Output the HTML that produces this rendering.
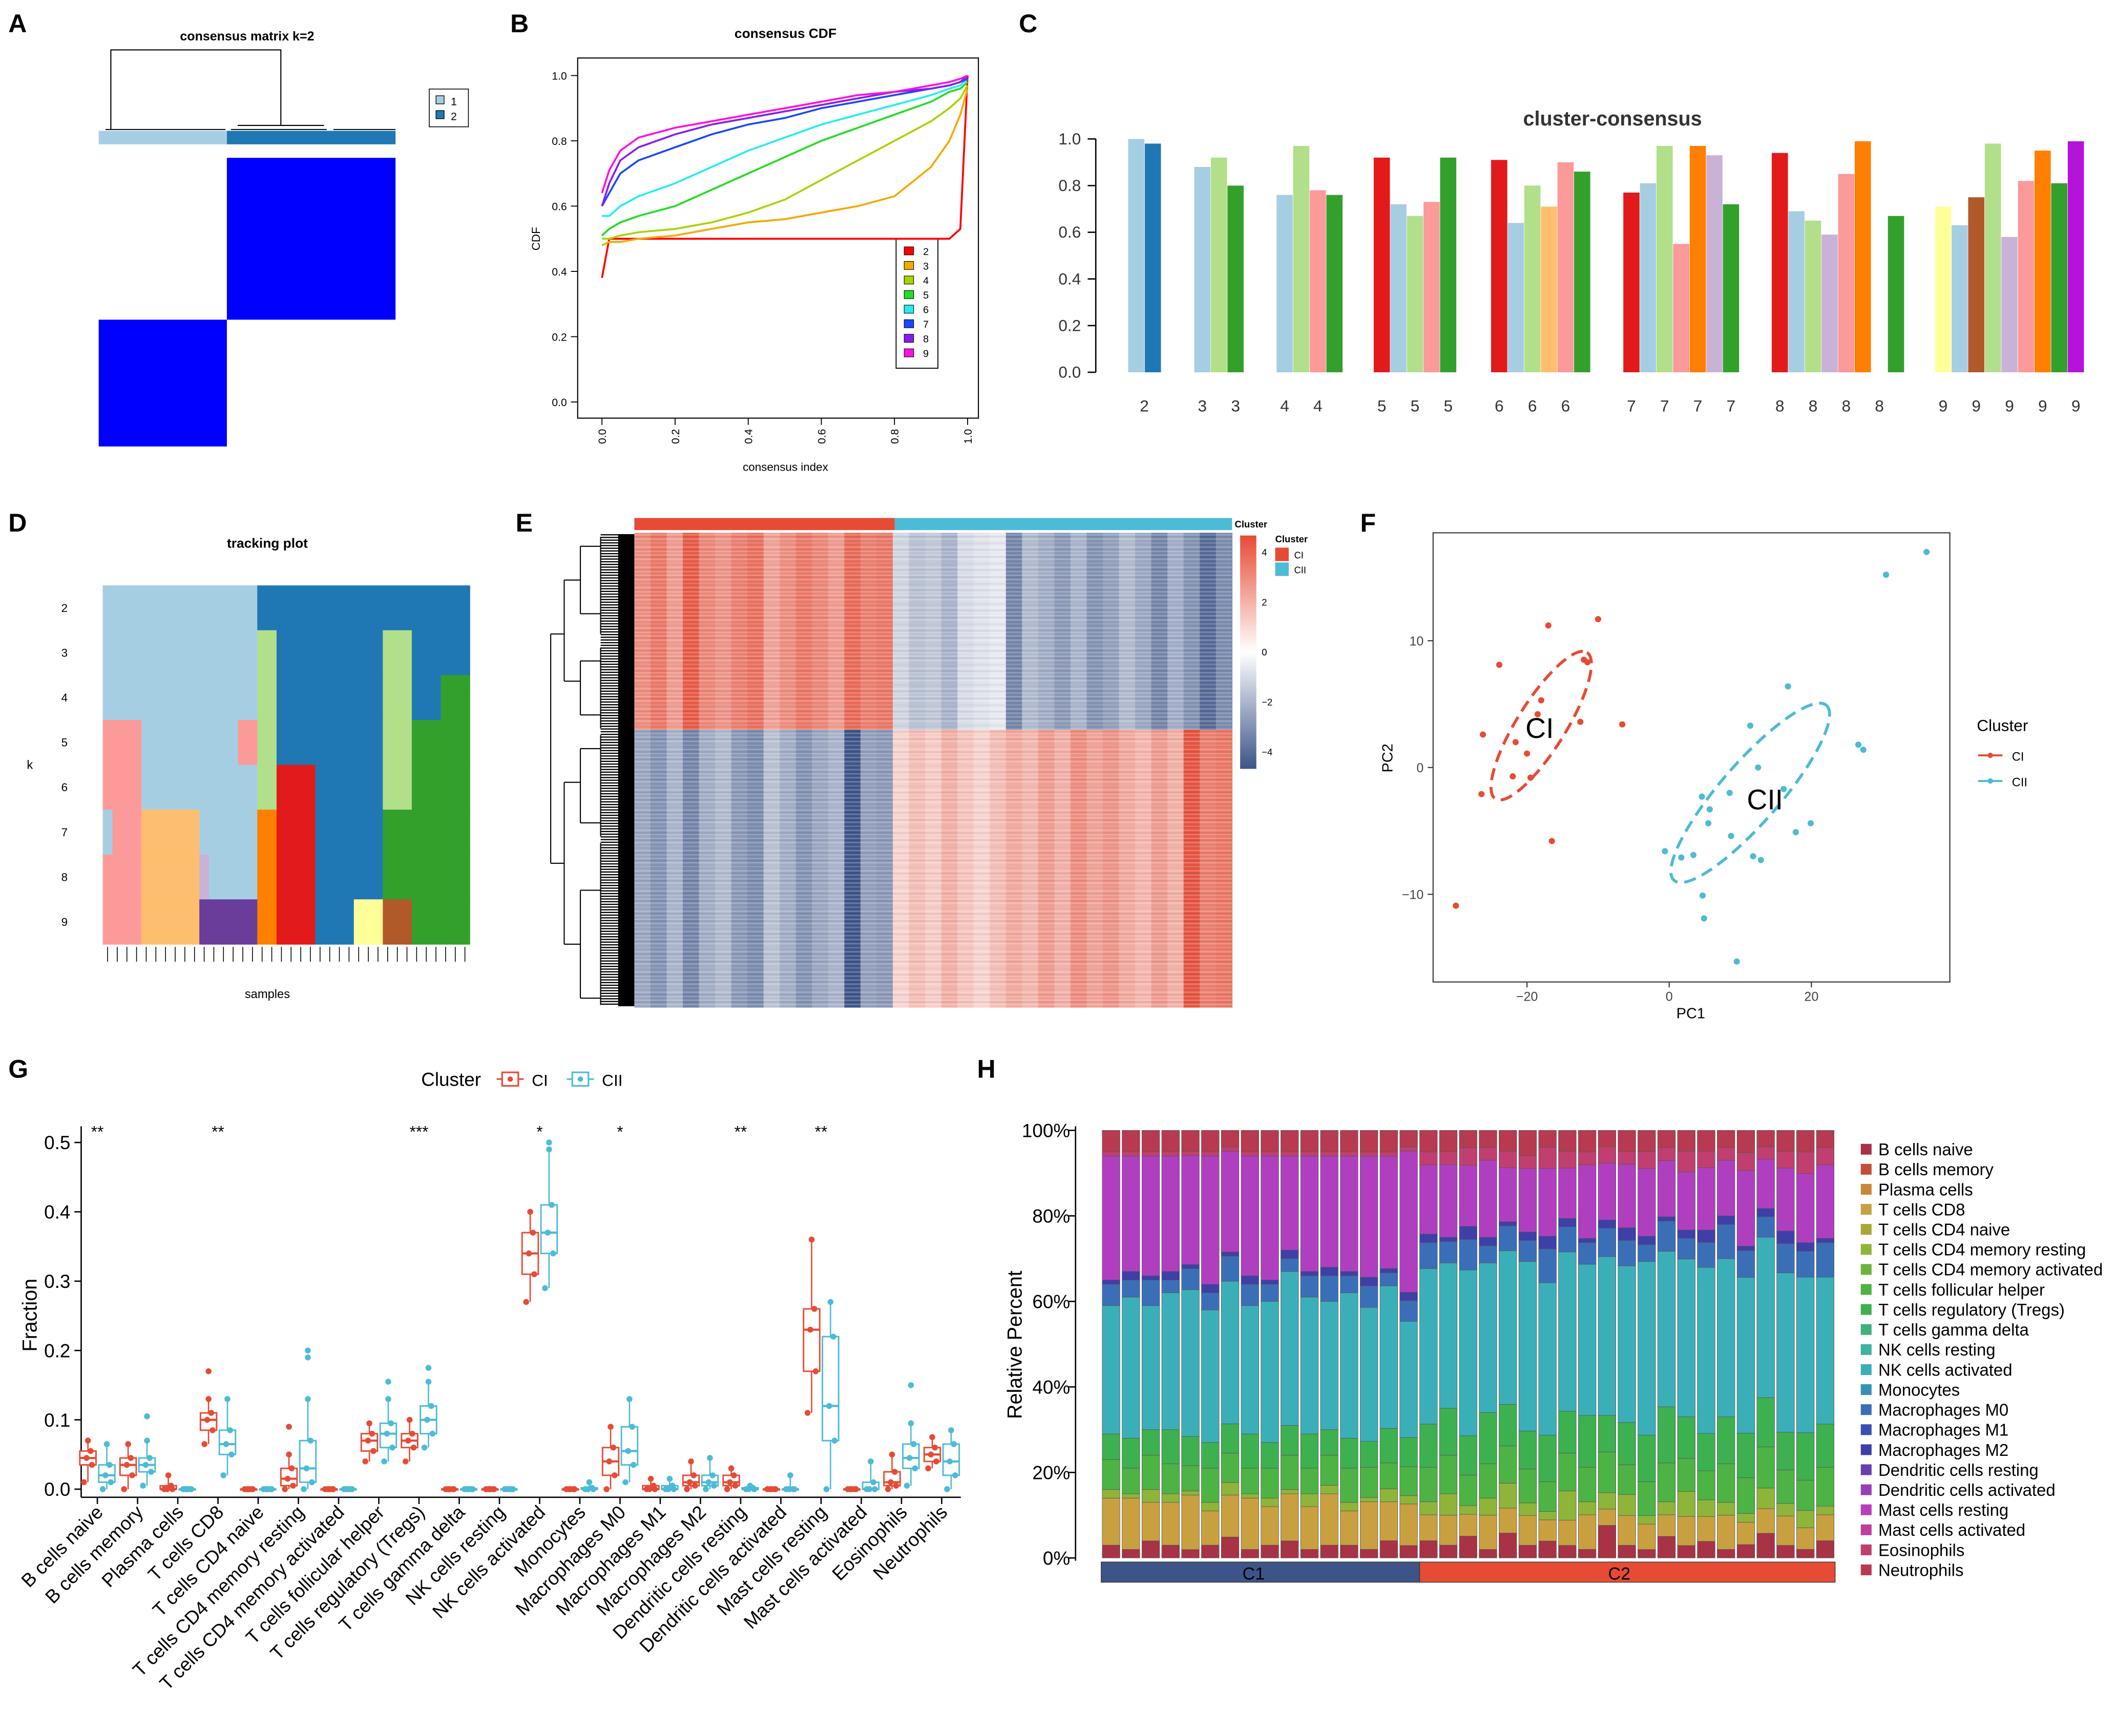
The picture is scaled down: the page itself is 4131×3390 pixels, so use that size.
<!DOCTYPE html>
<html><head><meta charset="utf-8"><style>
html,body{margin:0;padding:0;background:#fff;}
svg{display:block;font-family:"Liberation Sans",Arial,sans-serif;}
</style></head><body>
<svg id="fig" width="4131" height="3390" viewBox="0 0 1568 1287" xmlns="http://www.w3.org/2000/svg">
<rect x="0" y="0" width="1568" height="1287" fill="#fff"/>
<g font-weight="bold" font-size="19" fill="#000">
<text x="6" y="24">A</text>
<text x="378" y="24">B</text>
<text x="755" y="24">C</text>
<text x="6" y="394">D</text>
<text x="382" y="394">E</text>
<text x="1008" y="394">F</text>
<text x="6" y="799">G</text>
<text x="724" y="799">H</text>
</g>
<!-- Panel A -->
<g>
<text x="183" y="30" font-size="9.5" font-weight="bold" text-anchor="middle">consensus matrix k=2</text>
<path d="M82 96 V37 H208 V93 M78 96 H167 M171 96 H242 M247 96 H293 M176 93 H240" stroke="#000" stroke-width="0.8" fill="none"/>
<rect x="73" y="97" width="95" height="10" fill="#A6CEE3"/>
<rect x="168" y="97" width="125" height="10" fill="#1F78B4"/>
<rect x="168" y="117" width="125" height="120" fill="#0000FF"/>
<rect x="73" y="237" width="95" height="94" fill="#0000FF"/>
<g>
<rect x="318" y="66" width="29" height="28" fill="#fff" stroke="#000" stroke-width="0.6"/>
<rect x="323" y="71" width="6" height="6" fill="#A6CEE3" stroke="#000" stroke-width="0.5"/>
<rect x="323" y="82" width="6" height="6" fill="#1F78B4" stroke="#000" stroke-width="0.5"/>
<text x="334" y="78" font-size="8">1</text><text x="334" y="89" font-size="8">2</text>
</g>
</g>
<!-- Panel B -->
<g id="pB">
<text x="582" y="28" font-size="10" font-weight="bold" text-anchor="middle">consensus CDF</text>
<rect x="428" y="43" width="297" height="267" fill="none" stroke="#000" stroke-width="0.8"/>
<text x="582" y="349" font-size="8.5" text-anchor="middle">consensus index</text>
<text x="0" y="0" font-size="8.5" text-anchor="middle" transform="translate(400,177) rotate(-90)">CDF</text>
<g><rect x="664" y="177" width="31" height="96" fill="#fff" stroke="#000" stroke-width="0.7"/></g>
</g>
<!-- Panel C -->
<g id="pC">
<text x="1195" y="93" font-size="15" font-weight="bold" fill="#333" text-anchor="middle">cluster-consensus</text>
<line x1="812" y1="103" x2="812" y2="276" stroke="#000" stroke-width="1"/>
</g>
<!-- Panel D -->
<g id="pD">
<text x="198" y="406" font-size="10" font-weight="bold" text-anchor="middle">tracking plot</text>
<text x="198" y="740" font-size="9" text-anchor="middle">samples</text>
<text x="22" y="570" font-size="9" text-anchor="middle">k</text>
</g>
<!-- Panel E -->
<defs>
<pattern id="hlines" width="6" height="3" patternUnits="userSpaceOnUse"><rect width="6" height="1.2" fill="#fff" opacity="0.22"/></pattern>
<pattern id="hlines2" width="6" height="5" patternUnits="userSpaceOnUse"><rect y="2" width="6" height="1.5" fill="#000" opacity="0.06"/></pattern>
<pattern id="dend" width="40" height="2" patternUnits="userSpaceOnUse"><rect width="40" height="0.9" fill="#000"/></pattern>
<linearGradient id="hmgrad" x1="0" y1="0" x2="0" y2="1"><stop offset="0" stop-color="#E64B35"/><stop offset="0.5" stop-color="#FFFFFF"/><stop offset="1" stop-color="#3C5488"/></linearGradient>
</defs>
<g id="pE">
<rect x="470" y="384" width="193" height="9" fill="#E64B35"/>
<rect x="663" y="384" width="250" height="9" fill="#4DBBD5"/>
<g>
<path d="M408 470 V640 M408 470 H418 M408 640 H418 M418 430 V505 M418 580 V700 M418 430 H430 M418 505 H430 M418 580 H430 M418 700 H430 M430 405 V455 M430 490 V530 M430 555 V610 M430 660 V740 M430 405 H445 M430 455 H445 M430 490 H445 M430 530 H445 M430 555 H445 M430 610 H445 M430 660 H445 M430 740 H445 M445 398 V470 M445 480 V540 M445 545 V620 M445 625 V745" stroke="#000" stroke-width="0.8" fill="none"/>
<rect x="445" y="396" width="25" height="350" fill="url(#dend)"/>
<rect x="458" y="396" width="12" height="350" fill="#000"/>
</g>
<rect x="919" y="397" width="12" height="173" fill="url(#hmgrad)"/>
<g font-size="7">
<text x="935" y="412">4</text><text x="935" y="449">2</text><text x="935" y="486">0</text><text x="935" y="523">−2</text><text x="935" y="560">−4</text>
</g>
<text x="915" y="391" font-size="7" font-weight="bold">Cluster</text>
<g>
<text x="945" y="402" font-size="7" font-weight="bold">Cluster</text>
<rect x="945" y="406" width="10" height="10" fill="#E64B35"/><text x="959" y="414" font-size="7">CI</text>
<rect x="945" y="417" width="10" height="10" fill="#4DBBD5"/><text x="959" y="425" font-size="7">CII</text>
</g>
</g>
<!-- Panel F -->
<g id="pF">
<rect x="1062" y="395" width="383" height="333" fill="#fff" stroke="#333" stroke-width="0.8"/>
<text x="1253" y="755" font-size="11" text-anchor="middle">PC1</text>
<text x="0" y="0" font-size="11" text-anchor="middle" transform="translate(1032,562) rotate(-90)">PC2</text>
<g>
<text x="1465" y="542" font-size="12">Cluster</text>
<line x1="1466" y1="560" x2="1484" y2="560" stroke="#E64B35" stroke-width="1.5"/><circle cx="1475" cy="560" r="2" fill="#E64B35"/><text x="1491" y="564" font-size="9">CI</text>
<line x1="1466" y1="579" x2="1484" y2="579" stroke="#4DBBD5" stroke-width="1.5"/><circle cx="1475" cy="579" r="2" fill="#4DBBD5"/><text x="1491" y="583" font-size="9">CII</text>
</g>
</g>
<!-- Panel G -->
<g id="pG">
<text x="0" y="0" font-size="15" text-anchor="middle" transform="translate(27,975) rotate(-90)">Fraction</text>
<g>
<text x="312" y="805" font-size="14">Cluster</text>
<line x1="368" y1="800" x2="388" y2="800" stroke="#E64B35" stroke-width="1.2"/><rect x="372" y="795" width="12" height="10" fill="#fff" stroke="#E64B35" stroke-width="1.2"/><circle cx="378" cy="800" r="2" fill="#E64B35"/><text x="394" y="805" font-size="12">CI</text>
<line x1="420" y1="800" x2="440" y2="800" stroke="#4DBBD5" stroke-width="1.2"/><rect x="424" y="795" width="12" height="10" fill="#fff" stroke="#4DBBD5" stroke-width="1.2"/><circle cx="430" cy="800" r="2" fill="#4DBBD5"/><text x="446" y="805" font-size="12">CII</text>
</g>
<line x1="60" y1="835" x2="60" y2="1110" stroke="#000" stroke-width="1"/>
<line x1="60" y1="1110" x2="712" y2="1110" stroke="#000" stroke-width="1"/>
</g>
<!-- Panel H -->
<g id="pH">
<text x="0" y="0" font-size="15" text-anchor="middle" transform="translate(757,997) rotate(-90)">Relative Percent</text>
<line x1="797" y1="835" x2="797" y2="1157" stroke="#000" stroke-width="1"/>
<rect x="816" y="1158" width="236" height="15" fill="#3C5488" stroke="#333" stroke-width="0.5"/>
<rect x="1052" y="1158" width="308" height="15" fill="#E64B35" stroke="#333" stroke-width="0.5"/>
<text x="929" y="1171" font-size="13" text-anchor="middle">C1</text>
<text x="1200" y="1171" font-size="13" text-anchor="middle">C2</text>
</g>
</svg>
<script>
const NS='http://www.w3.org/2000/svg';
function mk(tag,attrs,parent){const e=document.createElementNS(NS,tag);for(const k in attrs)e.setAttribute(k,attrs[k]);parent.appendChild(e);return e;}
function txt(parent,x,y,s,size,anchor,extra){const t=mk('text',Object.assign({x:x,y:y,'font-size':size,'text-anchor':anchor||'start'},extra||{}),parent);t.textContent=s;return t;}

/* ---------- Panel B data ---------- */
const cdfX=[0,0.02,0.05,0.1,0.2,0.3,0.4,0.5,0.6,0.7,0.8,0.9,0.95,0.98,1.0];
const cdfK=[2,3,4,5,6,7,8,9];
const cdfK2=[0.38,0.5,0.5,0.5,0.5,0.5,0.5,0.5,0.5,0.5,0.5,0.5,0.5,0.53,1.0];
const cdfK3=[0.48,0.49,0.49,0.5,0.51,0.53,0.55,0.56,0.58,0.6,0.63,0.72,0.8,0.88,0.96];
const cdfK4=[0.5,0.5,0.51,0.52,0.53,0.55,0.58,0.62,0.68,0.74,0.8,0.86,0.9,0.93,0.97];
const cdfK5=[0.51,0.53,0.55,0.57,0.6,0.65,0.7,0.75,0.8,0.84,0.88,0.92,0.95,0.96,0.98];
const cdfK6=[0.57,0.57,0.6,0.63,0.67,0.72,0.77,0.81,0.85,0.88,0.91,0.94,0.96,0.97,0.99];
const cdfK7=[0.6,0.64,0.7,0.74,0.78,0.82,0.85,0.87,0.9,0.92,0.94,0.96,0.97,0.98,0.99];
const cdfK8=[0.6,0.67,0.74,0.78,0.82,0.85,0.87,0.89,0.91,0.93,0.95,0.96,0.97,0.98,1.0];
const cdfK9=[0.64,0.71,0.77,0.81,0.84,0.86,0.88,0.9,0.92,0.94,0.95,0.97,0.98,0.99,1.0];
const cdfTicks=[0,0.2,0.4,0.6,0.8,1.0];
/* ---------- Panel C data ---------- */
const ccK=[2,3,4,5,6,7,8,9];
const ccVals=[[1.0,0.98],[0.88,0.92,0.80],[0.76,0.97,0.78,0.76],[0.92,0.72,0.67,0.73,0.92],[0.91,0.64,0.80,0.71,0.90,0.86],[0.77,0.81,0.97,0.55,0.97,0.93,0.72],[0.94,0.69,0.65,0.59,0.85,0.99,0,0.67],[0.71,0.63,0.75,0.98,0.58,0.82,0.95,0.81,0.99]];
const ccCols=[['#A6CEE3','#1F78B4'],['#A6CEE3','#B2DF8A','#33A02C'],['#A6CEE3','#B2DF8A','#FB9A99','#33A02C'],['#E31A1C','#A6CEE3','#B2DF8A','#FB9A99','#33A02C'],['#E31A1C','#A6CEE3','#B2DF8A','#FDBF6F','#FB9A99','#33A02C'],['#E31A1C','#A6CEE3','#B2DF8A','#FB9A99','#FF7F00','#CAB2D6','#33A02C'],['#E31A1C','#A6CEE3','#B2DF8A','#CAB2D6','#FB9A99','#FF7F00','#FFFFFF','#33A02C'],['#FFFF99','#A6CEE3','#B15928','#B2DF8A','#CAB2D6','#FB9A99','#FF7F00','#33A02C','#B513D9']];
const ccStart=[842,891,952,1024,1111,1209,1319,1440];
const ccTicks=[0,0.2,0.4,0.6,0.8,1.0];
/* ---------- Panel D data (segments: colour key, sample count) ---------- */
const trkRows=[2,3,4,5,6,7,8,9];
const trkSegs=[[['LB',16],['DB',22]],[['LB',16],['LG',2],['DB',11],['LG',3],['DB',6]],[['LB',16],['LG',2],['DB',11],['LG',3],['DB',3],['G',3]],[['PK',4],['LB',10],['PK',2],['LG',2],['DB',11],['LG',3],['G',6]],[['PK',4],['LB',12],['LG',2],['R',4],['DB',7],['LG',3],['G',6]],[['LB',1],['PK',3],['LO',6],['LB',6],['O',2],['R',4],['DB',7],['G',9]],[['PK',4],['LO',6],['LV',1],['LB',5],['O',2],['R',4],['DB',7],['G',9]],[['PK',4],['LO',6],['P',6],['O',2],['R',4],['DB',4],['Y',3],['BR',3],['G',6]]];
const trkN=38;
/* ---------- Panel E data: column mean z for upper / lower gene blocks ---------- */
const hmTop=[1.6,1.9,1.4,2.3,1.7,1.5,1.8,2.0,1.3,1.6,1.9,1.7,1.4,2.1,1.8,1.9,-0.6,-0.9,-0.8,-1.1,-0.5,-0.4,-0.3,-1.8,-1.0,-1.2,-1.5,-1.1,-1.6,-1.4,-1.0,-1.3,-1.8,-1.2,-1.6,-2.2,-1.7];
const hmBot=[-1.3,-1.6,-1.1,-1.8,-1.2,-1.0,-1.5,-1.7,-0.9,-1.2,-1.6,-1.3,-1.1,-2.6,-1.4,-1.5,0.6,0.9,0.7,1.1,0.8,0.6,0.9,1.2,1.0,1.4,1.1,1.6,1.3,1.5,1.2,1.0,1.4,1.1,2.4,1.8,1.9];
/* ---------- Panel F data ---------- */
const ciPC1=[-30,-26.4,-26.2,-23.9,-22,-21.6,-20,-19.5,-18.5,-18,-17,-16.5,-12.5,-12,-11.5,-10,-6.6];
const ciPC2=[-10.9,-2.1,2.6,8.1,-0.7,2.0,1.1,-0.8,4.2,5.3,11.2,-5.8,3.6,8.5,8.3,11.7,3.4];
const ciiPC1=[36.2,30.5,16.7,26.6,27.3,11.4,4.6,5.7,8.5,-0.6,1.7,3.4,4.7,4.9,9.5,11.8,12.9,17.8,19.9,12.5,8.7,5.5,16.1];
const ciiPC2=[17.0,15.2,6.4,1.8,1.4,3.3,-2.3,-3.3,-2.0,-6.6,-7.1,-6.9,-10.1,-11.9,-15.3,-7.0,-7.3,-5.1,-4.4,0,-5.4,-4.4,-1.7];
const pcXTicks=[-20,0,20];
const pcYTicks=[10,0,-10];
/* ---------- Panel G data: [whiskerLo,q1,median,q3,whiskerHi] ---------- */
const cells=['B cells naive','B cells memory','Plasma cells','T cells CD8','T cells CD4 naive','T cells CD4 memory resting','T cells CD4 memory activated','T cells follicular helper','T cells regulatory (Tregs)','T cells gamma delta','NK cells resting','NK cells activated','Monocytes','Macrophages M0','Macrophages M1','Macrophages M2','Dendritic cells resting','Dendritic cells activated','Mast cells resting','Mast cells activated','Eosinophils','Neutrophils'];
const boxCI=[[0.01,0.035,0.045,0.055,0.07],[0,0.02,0.035,0.045,0.065],[0,0,0,0.005,0.02],[0.065,0.085,0.10,0.11,0.13],[0,0,0,0,0],[0,0.005,0.015,0.03,0.05],[0,0,0,0,0],[0.04,0.055,0.07,0.08,0.095],[0.04,0.06,0.07,0.08,0.10],[0,0,0,0,0],[0,0,0,0,0],[0.27,0.31,0.34,0.37,0.40],[0,0,0,0,0],[0,0.02,0.04,0.06,0.09],[0,0,0,0.005,0.015],[0,0.005,0.01,0.02,0.04],[0,0.005,0.01,0.02,0.03],[0,0,0,0,0],[0.11,0.17,0.23,0.26,0.36],[0,0,0,0,0],[0,0.005,0.01,0.025,0.05],[0.03,0.04,0.05,0.06,0.075]];
const boxCII=[[0,0.01,0.02,0.035,0.065],[0.005,0.025,0.035,0.045,0.07],[0,0,0,0,0],[0.02,0.05,0.065,0.085,0.13],[0,0,0,0,0],[0,0.01,0.03,0.07,0.13],[0,0,0,0,0],[0.04,0.06,0.08,0.095,0.13],[0.06,0.08,0.10,0.12,0.155],[0,0,0,0,0],[0,0,0,0,0],[0.29,0.34,0.37,0.41,0.49],[0,0,0,0.002,0.01],[0.01,0.035,0.055,0.09,0.13],[0,0,0,0.005,0.015],[0,0.005,0.01,0.02,0.045],[0,0,0,0.002,0.005],[0,0,0,0,0.02],[0,0.07,0.12,0.22,0.27],[0,0,0,0.01,0.04],[0.005,0.03,0.045,0.065,0.095],[0,0.02,0.04,0.065,0.085]];
const outCI=[[],[],[],[0.17],[],[0.09],[],[],[],[],[],[],[],[],[],[],[],[],[],[],[],[]];
const outCII=[[],[0.105],[],[],[],[0.2,0.19],[],[0.155],[0.175],[],[],[0.5],[],[],[],[],[],[],[],[],[0.15],[]];
const sigIdx=[0,3,8,11,13,16,18];
const sigLab=['**','**','***','*','*','**','**'];
const gTicks=[0,0.1,0.2,0.3,0.4,0.5];
/* ---------- Panel H data (per sample fractions, 16 C1 then 21 C2) ---------- */
const hBnaive=[.03,.02,.04,.03,.02,.03,.05,.02,.03,.04,.02,.03,.03,.02,.04,.03,.04,.03,.05,.02,.06,.03,.04,.03,.02,.08,.03,.02,.05,.03,.04,.02,.03,.06,.03,.02,.04];
const hCD8=[.11,.12,.09,.10,.13,.08,.10,.12,.09,.11,.10,.12,.08,.11,.09,.10,.06,.07,.05,.08,.06,.07,.05,.06,.08,.04,.07,.06,.05,.07,.06,.08,.05,.06,.07,.05,.06];
const hCD4r=[.02,.01,.03,.02,.01,.02,.03,.01,.02,.01,.03,.02,.02,.01,.03,.02,.03,.05,.02,.04,.06,.03,.02,.07,.03,.04,.05,.02,.03,.06,.04,.03,.02,.05,.03,.04,.02];
const hTfh=[.07,.06,.08,.07,.06,.08,.07,.06,.07,.08,.06,.07,.08,.07,.06,.07,.08,.09,.07,.08,.09,.08,.07,.09,.08,.10,.07,.08,.09,.08,.07,.09,.08,.10,.08,.07,.09];
const hTreg=[.06,.07,.06,.08,.07,.06,.07,.08,.06,.07,.08,.06,.07,.06,.08,.07,.10,.11,.09,.12,.10,.09,.11,.10,.12,.09,.10,.11,.13,.10,.09,.11,.10,.12,.09,.11,.10];
const hNK=[.30,.33,.29,.32,.35,.31,.34,.30,.33,.36,.32,.30,.34,.31,.33,.28,.36,.34,.38,.35,.37,.40,.36,.38,.35,.39,.37,.41,.36,.38,.40,.37,.35,.39,.38,.36,.34];
const hM0=[.05,.04,.06,.03,.05,.04,.06,.05,.04,.03,.05,.06,.04,.05,.03,.05,.06,.05,.07,.04,.06,.05,.08,.06,.05,.07,.06,.04,.07,.05,.06,.08,.06,.05,.07,.06,.08];
const hM2=[.01,.02,.01,.02,.01,.02,.01,.02,.01,.02,.01,.02,.01,.02,.01,.02,.02,.01,.03,.02,.01,.02,.03,.02,.01,.02,.03,.02,.01,.02,.03,.02,.01,.02,.03,.02,.01];
const hMast=[.29,.27,.28,.27,.26,.30,.24,.28,.29,.22,.27,.26,.27,.28,.26,.34,.16,.17,.14,.18,.13,.15,.16,.12,.17,.14,.15,.16,.13,.14,.15,.13,.17,.12,.15,.16,.17];
const hEos=[.01,.01,.01,.01,.01,.01,.01,.01,.01,.01,.01,.01,.01,.01,.01,.01,.03,.03,.04,.03,.04,.03,.05,.04,.03,.04,.03,.04,.03,.05,.04,.03,.04,.03,.04,.05,.04];
const hNeut=[.05,.05,.05,.05,.05,.05,.04,.05,.05,.05,.05,.05,.05,.05,.05,.04,.05,.05,.04,.04,.05,.06,.04,.05,.05,.04,.05,.05,.04,.05,.05,.04,.05,.04,.05,.05,.04];
const hTicks=[0,0.2,0.4,0.6,0.8,1.0];
const hLabels=['0%','20%','40%','60%','80%','100%'];

const svg=document.getElementById('fig');

/* ===== Panel B ===== */
const pB=document.getElementById('pB');
const bx=v=>446+271*v, by=v=>298-242*v;
const cdfSeries=[cdfK2,cdfK3,cdfK4,cdfK5,cdfK6,cdfK7,cdfK8,cdfK9];
const cdfCols=['#FF0000','#F5A800','#A8D400','#22DD22','#22EEEE','#1848FF','#8A1CF0','#FF10E0'];
cdfTicks.forEach(t=>{
 const l=mk('line',{x1:428,x2:423,y1:by(t),y2:by(t),stroke:'#000','stroke-width':0.7},pB);
 
 
 const tl=txt(pB,420,by(t)+3,t.toFixed(1),8,'end');
 
 
 const l2=mk('line',{x1:bx(t),x2:bx(t),y1:310,y2:315,stroke:'#000','stroke-width':0.7},pB);
 
 
 const t2=txt(pB,0,0,t.toFixed(1),8,'end',{transform:`translate(${bx(t)+3},318) rotate(-90)`});
 
 
});
cdfSeries.forEach((s,i)=>{
 let d='';s.forEach((v,j)=>{d+=(j?'L':'M')+bx(cdfX[j]).toFixed(1)+' '+by(v).toFixed(1);});
 const p=mk('path',{d:d,fill:'none',stroke:cdfCols[i],'stroke-width':1.4},pB);
 
 
 const r=mk('rect',{x:670,y:183+i*10.8,width:7,height:6,fill:cdfCols[i],stroke:'#000','stroke-width':0.4},pB);
 
 
 const t=txt(pB,684,189+i*10.8,String(cdfK[i]),7.5,'start');
 
 
});

/* ===== Panel C ===== */
const pC=document.getElementById('pC');
const cy=v=>276-173*v;
ccTicks.forEach(t=>{
 const l=mk('line',{x1:812,x2:806,y1:cy(t),y2:cy(t),stroke:'#000','stroke-width':1},pC);
 
 
 const tl=txt(pC,801,cy(t)+4,t.toFixed(1),12,'end',{fill:'#333'});
 
 
});
ccVals.forEach((g,gi)=>{
 g.forEach((v,bi)=>{
  const x=ccStart[gi]+bi*12.3;
  const r=mk('rect',{x:x-6,y:cy(v),width:12,height:276-cy(v),fill:ccCols[gi][bi]},pC);
  
  
  if(bi%2===0 || g.length===2 && bi===0){
   const t=txt(pC,x+(g.length===2?6:0),305,String(ccK[gi]),12,'middle',{fill:'#333'});
   
   
  }
 });
});

/* ===== Panel D ===== */
const pD=document.getElementById('pD');
const trkCol={LB:'#A6CEE3',DB:'#1F78B4',LG:'#B2DF8A',G:'#33A02C',PK:'#FB9A99',R:'#E31A1C',LO:'#FDBF6F',O:'#FF7F00',LV:'#CAB2D6',P:'#6A3D9A',Y:'#FFFF99',BR:'#B15928'};
const dx0=76,dW=272,dy0=434,dH=266,rowH=dH/trkRows.length,sw=dW/trkN;
trkSegs.forEach((row,ri)=>{
 let s=0;
 row.forEach(seg=>{
  const r=mk('rect',{x:dx0+s*sw,y:dy0+ri*rowH,width:seg[1]*sw+0.3,height:rowH+0.3,fill:trkCol[seg[0]]},pD);
  
  
  s+=seg[1];
 });
 const t=txt(pD,50,dy0+ri*rowH+rowH/2+3,String(trkRows[ri]),8.5,'end');
 
 
});
for(let i=0;i<trkN;i++){
 const l=mk('line',{x1:dx0+(i+0.5)*sw,x2:dx0+(i+0.5)*sw,y1:702,y2:713,stroke:'#000','stroke-width':0.6},pD);
 
 
}

/* ===== Panel E ===== */
const pE=document.getElementById('pE');
function zcol(v){
 const t=Math.max(-1,Math.min(1,v/4));
 const a=[255,255,255];
 const b=t>0?[230,75,53]:[60,84,136];
 const k=Math.abs(t)*1.6>1?1:Math.abs(t)*1.6;
 return 'rgb('+a.map((c,i)=>Math.round(c+(b[i]-c)*k)).join(',')+')';
}
const hmX0=470,hmX1=913,hmYm=541,hmY0=395,hmY1=747,ncol=hmTop.length,cw=(hmX1-hmX0)/ncol;
hmTop.forEach((v,i)=>{
 const r=mk('rect',{x:hmX0+i*cw,y:hmY0,width:cw+0.3,height:hmYm-hmY0,fill:zcol(v)},pE);
 
 
});
hmBot.forEach((v,i)=>{
 const r=mk('rect',{x:hmX0+i*cw,y:hmYm,width:cw+0.3,height:hmY1-hmYm,fill:zcol(v)},pE);
 
 
});
const tex=mk('rect',{x:hmX0,y:hmY0,width:hmX1-hmX0,height:hmY1-hmY0,fill:'url(#hlines)'},pE);


const tex2=mk('rect',{x:hmX0,y:hmY0,width:hmX1-hmX0,height:hmY1-hmY0,fill:'url(#hlines2)'},pE);



/* ===== Panel F ===== */
const pF=document.getElementById('pF');
const fx=v=>1237+5.27*v, fy=v=>569-9.4*v;
pcXTicks.forEach(t=>{
 const l=mk('line',{x1:fx(t),x2:fx(t),y1:728,y2:732,stroke:'#333','stroke-width':0.8},pF);
 
 
 const tl=txt(pF,fx(t),742,t<0?'−'+(-t):String(t),9.5,'middle',{fill:'#444'});
 
 
});
pcYTicks.forEach(t=>{
 const l=mk('line',{x1:1058,x2:1062,y1:fy(t),y2:fy(t),stroke:'#333','stroke-width':0.8},pF);
 
 
 const tl=txt(pF,1055,fy(t)+3.5,t<0?'−'+(-t):String(t),9.5,'end',{fill:'#444'});
 
 
});
const e1=mk('ellipse',{cx:fx(-18),cy:fy(3.3),rx:64,ry:18,transform:`rotate(-58 ${fx(-18)} ${fy(3.3)})`,fill:'none',stroke:'#E64B35','stroke-width':2.2,'stroke-dasharray':'9 5'},pF);


const e2=mk('ellipse',{cx:fx(11.4),cy:fy(-2),rx:86,ry:22,transform:`rotate(-49 ${fx(11.4)} ${fy(-2)})`,fill:'none',stroke:'#4DBBD5','stroke-width':2.2,'stroke-dasharray':'9 5'},pF);


ciPC1.forEach((v,i)=>{
 const c=mk('circle',{cx:fx(v),cy:fy(ciPC2[i]),r:2.3,fill:'#E64B35'},pF);
 
 
});
ciiPC1.forEach((v,i)=>{
 const c=mk('circle',{cx:fx(v),cy:fy(ciiPC2[i]),r:2.3,fill:'#4DBBD5'},pF);
 
 
});
const l1=txt(pF,1141,547,'CI',21,'middle');


const l2=txt(pF,1308,600,'CII',21,'middle');



/* ===== Panel G ===== */
const pG=document.getElementById('pG');
const gy=v=>1104-514*v, gx=i=>72+29.8*i;
gTicks.forEach(t=>{
 const l=mk('line',{x1:60,x2:55,y1:gy(t),y2:gy(t),stroke:'#000','stroke-width':1},pG);
 
 
 const tl=txt(pG,52,gy(t)+5,t.toFixed(1),14,'end');
 
 
});
const jit=[-3,3,-1,2,0];
function drawBox(b,outs,cx,col,name){
 const g=mk('g',{},pG);
 
 
 mk('line',{x1:cx,x2:cx,y1:gy(b[0]),y2:gy(b[4]),stroke:col,'stroke-width':1},g);
 mk('rect',{x:cx-6,y:gy(b[3]),width:12,height:Math.max(0.5,gy(b[1])-gy(b[3])),fill:'#fff',stroke:col,'stroke-width':1.1},g);
 mk('line',{x1:cx-6,x2:cx+6,y1:gy(b[2]),y2:gy(b[2]),stroke:col,'stroke-width':1.6},g);
 b.forEach((v,k)=>{mk('circle',{cx:cx+jit[k],cy:gy(v),r:2.2,fill:col},g);});
 outs.forEach(v=>{mk('circle',{cx:cx,cy:gy(v),r:2.2,fill:col},g);});
}
cells.forEach((c,i)=>{
 drawBox(boxCI[i],outCI[i],gx(i)-7,'#E64B35','box-ci-'+i);
 drawBox(boxCII[i],outCII[i],gx(i)+7,'#4DBBD5','box-cii-'+i);
 const tk=mk('line',{x1:gx(i),x2:gx(i),y1:1110,y2:1115,stroke:'#000','stroke-width':1},pG);
 
 
 const t=txt(pG,0,0,c,14,'end',{transform:`translate(${gx(i)+5},1122) rotate(-45)`});
 
 
});
sigIdx.forEach((ci,k)=>{
 const t=txt(pG,gx(ci),843,sigLab[k],12,'middle');
 
 
});

/* ===== Panel H ===== */
const pH=document.getElementById('pH');
const hy=v=>1155-317*v;
hTicks.forEach((t,i)=>{
 const l=mk('line',{x1:797,x2:792,y1:hy(t),y2:hy(t),stroke:'#000','stroke-width':1},pH);
 
 
 const tl=txt(pH,793,hy(t)+5,hLabels[i],14,'end');
 
 
});
const legendCols=['#A83246','#C0503A','#C8873A','#C8A040','#A7A83A','#8EB43A','#6DB33F','#4DB344','#3DB050','#3DB27A','#3DB3A0','#3BAFB8','#3A8FB8','#3A6FB8','#3A50B0','#3F3FA8','#6A3FB0','#963FB8','#B83FB8','#C03F9A','#C03F70','#B83A50'];
const stackSeries=[hBnaive,hCD8,hCD4r,hTfh,hTreg,hNK,hM0,hM2,hMast,hEos,hNeut];
const stackCols=['#A83246','#C8A040','#8EB43A','#4DB344','#3DB050','#3BAFB8','#3A6FB8','#3F3FA8','#B03FC0','#C03F70','#B83A50'];
const nS=hBnaive.length,barStep=(1360-816)/nS;
for(let s=0;s<nS;s++){
 let tot=0;stackSeries.forEach(a=>tot+=a[s]);
 let cum=0;
 stackSeries.forEach((a,k)=>{
  const v=a[s]/tot;
  const r=mk('rect',{x:816+s*barStep+0.8,y:hy(cum+v),width:barStep-1.6,height:hy(cum)-hy(cum+v),fill:stackCols[k],stroke:'#555','stroke-width':0.3},pH);
  
  
  cum+=v;
 });
}
cells.forEach((c,i)=>{
 const r=mk('rect',{x:1379,y:848+i*14.85,width:8,height:8,fill:legendCols[i]},pH);
 
 
 const t=txt(pH,1392,856.5+i*14.85,c,12.5,'start');
 
 
});
</script>
</body></html>
